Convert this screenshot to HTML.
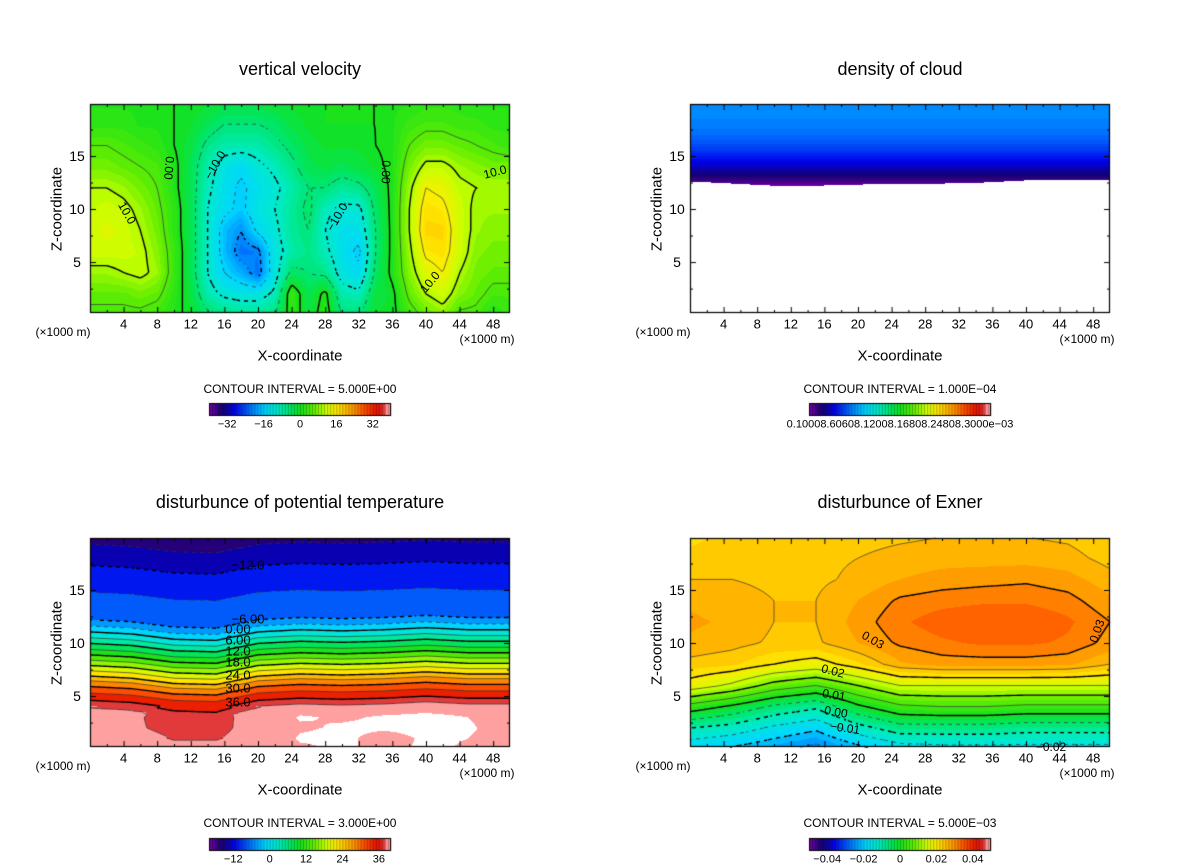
<!DOCTYPE html>
<html><head><meta charset="utf-8">
<style>
body{margin:0;width:1200px;height:868px;background:#fff;position:relative;overflow:hidden;font-family:"Liberation Sans",sans-serif;}
canvas{position:absolute;left:0;top:0}
.t{position:absolute;transform:translate(-50%,-50%);white-space:nowrap;color:#000;line-height:1}
</style></head>
<body>
<canvas id="cv" width="1200" height="868"></canvas>
<div id="labels"></div>
<script>
// ---------- data: panel 1 vertical velocity ----------
const vvX=[0,2,4,6,8,10,12,14,16,18,20,22,24,26,28,30,32,34,36,38,40,42,44,46,48,50];
const vvZ=[0,2,4,6,8,10,12,14,16,18,20];
const vvVals=[
[4,4,4,4,3,1,-1,-4,-5,-6,-6,-5,2,-2,2,-5,-5,-1,-1,3,6,8,4,4,1,3],
[6,6,6,7,6,2,-2,-8,-11,-12,-12,-9,3,-3,1,-8,-9,-2,-1,6,10,12,8,6,4,4],
[9,9,10,11,9,3,-3,-10,-15,-18,-22,-12,-4,-5,-6,-12,-14,-4,1,8,13,15,10,7,6,6],
[12,12,12,11,8,3,-3,-10,-17,-22,-21,-12,-8,-6,-9,-13,-16,-5,1,9,16,17,12,8,7,7],
[12,13,12,10,7,2,-3,-10,-17,-20,-14,-11,-7,-5,-10,-13,-13,-5,1,10,18,18,12,9,8,8],
[11,12,11,9,6,2,-3,-10,-14,-16,-12,-10,-7,-4,-9,-11,-11,-4,1,10,17,16,12,9,9,9],
[10,10,9,7,5,1,-3,-9,-13,-16,-13,-11,-8,-5,-5,-7,-6,-3,1,9,15,14,11,10,10,10],
[7,7,6,5,4,1,-3,-8,-12,-14,-11,-9,-6,-3,-2,-3,-2,-1,1,7,11,11,9,8,7,7],
[5,5,4,3,2,0,-2,-6,-8,-8,-8,-6,-4,-2,-1,-1,-1,0,1,5,7,7,6,5,4,3],
[2,2,2,1,1,0,-1,-3,-5,-5,-5,-4,-2,-1,0,0,0,0,1,3,4,4,3,3,2,2],
[1,1,1,1,0,0,0,-1,-2,-2,-2,-1,-1,0,0,0,0,0,1,1,2,2,2,1,1,1]];
// ---------- panel 2 cloud density (x1e-3) ----------
const cdZ=[12.2,12.8,13.5,14.5,15.5,16.5,17.5,19,20];
const cdVals=[0.01,0.05,0.09,0.14,0.18,0.21,0.23,0.245,0.245];
const cbX=[0,5,10,15,20,25,30,35,40,45,50];
const cloudBase=[12.6,12.4,12.2,12.2,12.3,12.4,12.4,12.5,12.7,12.7,12.7];
// ---------- panel 3 potential temperature ----------
const ptZ=[0,1,2,3,4,4.5,5,5.5,6,6.5,7,7.5,8,8.5,9,9.5,10,10.5,11,11.5,12,12.5,13.5,15,16,17.5,19,20];
const ptVals=[41.5,41.5,41.5,41,40.5,37.5,35,33,30.5,28,24.5,21.5,18.5,15.5,12.5,9.5,7,4,1.5,-1.5,-4,-6.5,-7.5,-9,-10,-12,-14,-16];
const ptDipX=[0,5,10,15,20,25,30,35,40,45,50];
const ptDip=[0.2,0.4,0.9,1.0,0.2,0,0.1,0,-0.2,0,0];
const ptLowX=[0,5,10,15,20,25,30,35,40,45,50];
const ptLowZ=[0,1,2,3,4];
const ptLow=[
[1,-1.5,-2,-2,-1.5,0,0.8,0,0.8,0.3,-0.5],
[-1.5,-2,-2.6,-2.6,-2,0.8,1,-0.3,0.8,0.5,-0.5],
[-1.5,-2,-2.6,-2.6,-1.5,0.2,0.8,0.8,1,0.8,-0.5],
[-1,-1.5,-2.3,-2.3,-0.8,1.2,0.8,1.2,1.3,1,-0.3],
[-1,-1,-1,-1,-1,0.6,0.6,0.6,0.8,0.8,-1]];
// ---------- panel 4 Exner (x1e-3) ----------
const exX=[0,5,10,15,20,25,30,35,40,45,50];
const exZ=[0,2,4,6,8,10,12,14,16,18,20];
const exVals=[
[-19,-21,-24,-27,-22,-18,-17,-17,-17,-17,-17],
[-10,-12,-16,-19,-12,-7,-7,-7,-8,-8,-8],
[3,-1,-6,-9,-1,4,5,5,4,4,4],
[18,14,8,5,10,15,15,15,15,15,15],
[24,23,20,18,22,27,28.5,28.5,28.5,28,25],
[27,26,24.5,24.5,27.5,30.5,32,33,33,32,29],
[28,27,25,25,28.5,32,34,35,35,33,30],
[27,26,25,25,27.5,30.5,31.5,32,32,31,28],
[25,25,24.5,24.5,25.5,27.5,28.5,29,29.5,28.5,26],
[23,24,24,24.5,25,26,26.5,26.5,26.5,26,24],
[22,23,23,23,24,24.5,25,25,25,24.5,23]];
const xTicks=[4,8,12,16,20,24,28,32,36,40,44,48];
const zTicks=[5,10,15];
const cb1=[-32,-16,0,16,32], cb3=[-12,0,12,24,36], cb4=[-0.04,-0.02,0,0.02,0.04];

// ---------- helpers ----------
const ST=[[0,[120,0,170]],[0.07,[20,0,110]],[0.14,[0,0,235]],[0.23,[0,120,255]],[0.31,[0,215,255]],[0.38,[0,235,200]],[0.45,[0,230,100]],[0.5,[20,225,30]],[0.58,[100,238,0]],[0.64,[200,255,0]],[0.7,[255,235,0]],[0.78,[255,165,0]],[0.85,[255,85,0]],[0.92,[232,20,0]],[0.955,[220,40,40]],[0.975,[255,145,145]],[1,[255,160,160]]];
function cmap(t){t=Math.max(0,Math.min(1,t));for(let i=0;i<ST.length-1;i++){if(t<=ST[i+1][0]){const f=(t-ST[i][0])/(ST[i+1][0]-ST[i][0]);return ST[i][1].map((c,k)=>Math.round(c+(ST[i+1][1][k]-c)*f));}}return ST[ST.length-1][1];}
function idx(a,v){if(v<=a[0])return 0;for(let i=0;i<a.length-1;i++)if(v<=a[i+1])return i;return a.length-2;}
function lin1(a,vals,v){const i=idx(a,v);let f=(v-a[i])/(a[i+1]-a[i]);f=Math.max(0,Math.min(1,f));return vals[i]+(vals[i+1]-vals[i])*f;}
function bil(xs,zs,g,x,z){const i=idx(xs,x),j=idx(zs,z);let fx=(x-xs[i])/(xs[i+1]-xs[i]),fz=(z-zs[j])/(zs[j+1]-zs[j]);fx=Math.max(0,Math.min(1,fx));fz=Math.max(0,Math.min(1,fz));
 const a=g[j][i],b=g[j][i+1],c=g[j+1][i],d=g[j+1][i+1];return (a*(1-fx)+b*fx)*(1-fz)+(c*(1-fx)+d*fx)*fz;}

const f1=(x,z)=>bil(vvX,vvZ,vvVals,x,z);
const f2=(x,z)=>{const b=lin1(cbX,cloudBase,x);return z<b?NaN:lin1(cdZ,cdVals,z);};
const f3=(x,z)=>{const d=lin1(ptDipX,ptDip,x);let v=lin1(ptZ,ptVals,z+d);if(z<4)v+=bil(ptLowX,ptLowZ,ptLow,x,z);return v;};
const f4=(x,z)=>bil(exX,exZ,exVals,x,z)/1000;

const W=420,H=209,ZMIN=0.2,ZMAX=19.9;
const cv=document.getElementById('cv'),ctx=cv.getContext('2d');
ctx.fillStyle='#fff';ctx.fillRect(0,0,1200,868);
const lay=document.getElementById('labels');
function txt(s,x,y,size,name,rot){const el=document.createElement('div');el.className='t';el.textContent=s;el.style.left=x+'px';el.style.top=y+'px';el.style.fontSize=size+'px';if(rot)el.style.transform='translate(-50%,-50%) rotate('+rot+'deg)';


lay.appendChild(el);return el;}

function fill(P,f,mn,mx,ci,whiteAbove){const img=ctx.createImageData(W,H);for(let py=0;py<H;py++){const z=ZMAX-(py+0.5)/H*(ZMAX-ZMIN);for(let px=0;px<W;px++){const x=(px+0.5)/W*50;const v=f(x,z);let c=[255,255,255];if(!isNaN(v)&&v>=mn&&v<=whiteAbove){const k=Math.floor(v/ci);c=cmap(((k+0.5)*ci-mn)/(mx-mn));}const o=(py*W+px)*4;img.data[o]=c[0];img.data[o+1]=c[1];img.data[o+2]=c[2];img.data[o+3]=255;}}ctx.putImageData(img,P.x,P.y);}

function contours(P,f,levels,thickFn,ci){const s=2,nx=Math.ceil(W/s),nz=Math.ceil(H/s);const F=[];
 for(let j=0;j<=nz;j++){const r=[];for(let i=0;i<=nx;i++){const px=Math.min(i*s,W),py=Math.min(j*s,H);r.push(f(px/W*50,ZMAX-py/H*(ZMAX-ZMIN)));}F.push(r);}
 const X=gx=>P.x+Math.min(gx*s,W),Y=gz=>P.y+Math.min(gz*s,H);
 levels.forEach(L0=>{const L=L0+ci*1e-6;const thick=thickFn(L0);ctx.strokeStyle=thick?'#000':'#333';ctx.lineWidth=thick?1.4:0.7;ctx.beginPath();
  for(let j=0;j<nz;j++)for(let i=0;i<nx;i++){const a=F[j][i],b=F[j][i+1],c=F[j+1][i+1],d=F[j+1][i];if(isNaN(a)||isNaN(b)||isNaN(c)||isNaN(d))continue;const p=[];
   if((a-L)*(b-L)<0)p.push([i+(L-a)/(b-a),j]);if((b-L)*(c-L)<0)p.push([i+1,j+(L-b)/(c-b)]);if((d-L)*(c-L)<0)p.push([i+(L-d)/(c-d),j+1]);if((a-L)*(d-L)<0)p.push([i,j+(L-a)/(d-a)]);
   for(let k=0;k+1<p.length;k+=2){const x1=X(p[k][0]),y1=Y(p[k][1]),x2=X(p[k+1][0]),y2=Y(p[k+1][1]);if(L0<0){const mx=(x1+x2)/2,my=(y1+y2)/2;if((Math.floor(mx/4)+Math.floor(my/4))%2)continue;}ctx.moveTo(x1,y1);ctx.lineTo(x2,y2);}}
  ctx.stroke();});}

function axes(P,id){ctx.strokeStyle='#000';ctx.lineWidth=1.2;ctx.strokeRect(P.x+0.5,P.y+0.5,W-1,H-1);ctx.lineWidth=1;ctx.beginPath();
 for(let x=2;x<50;x+=2){const px=P.x+x/50*W+0.5,l=(x%4==0)?6:3;ctx.moveTo(px,P.y+H);ctx.lineTo(px,P.y+H-l);ctx.moveTo(px,P.y);ctx.lineTo(px,P.y+l);}
 for(let z=2.5;z<20;z+=2.5){const py=P.y+(ZMAX-z)/(ZMAX-ZMIN)*H+0.5,l=(z%5==0)?6:3;ctx.moveTo(P.x,py);ctx.lineTo(P.x+l,py);ctx.moveTo(P.x+W,py);ctx.lineTo(P.x+W-l,py);}
 ctx.stroke();
 xTicks.forEach(x=>txt(String(x),P.x+x/50*W,P.y+H+11,13,id+'-x-tick-label'));
 zTicks.forEach(z=>txt(String(z),P.x-13,P.y+(ZMAX-z)/(ZMAX-ZMIN)*H,14,id+'-z-tick-label'));
 txt('(×1000 m)',P.x-27,P.y+H+19,12,id+'-x-unit-left');txt('(×1000 m)',P.x+397,P.y+H+26,12,id+'-x-unit-right');
 txt('X-coordinate',P.x+210,P.y+H+43,15,id+'-x-axis-title');txt('Z-coordinate',P.x-33,P.y+105,15,id+'-z-axis-title',-90);}

function cbar(cx,cy,mn,mx,ticks,id,fmt){const x0=cx-91,w=182,n=60;for(let i=0;i<n;i++){const c=cmap((i+0.5)/n);const xa=x0+i*w/n;ctx.fillStyle='rgb('+c+')';ctx.fillRect(xa,cy,w/n+0.5,13);ctx.fillStyle='rgba(0,0,0,0.35)';ctx.fillRect(xa,cy,0.8,13);}
 ctx.strokeStyle='#000';ctx.lineWidth=1;ctx.strokeRect(x0+0.5,cy+0.5,w-1,12);
 if(ticks)ticks.forEach(v=>txt(fmt(v),x0+(v-mn)/(mx-mn)*w,cy+22,11,id+'-colorbar-label'));}

const P1={x:90,y:104},P2={x:690,y:104},P3={x:90,y:538},P4={x:690,y:538};
fill(P1,f1,-40,40,1.25,40);fill(P2,f2,0,1,0.01,1);fill(P3,f3,-20,40,3,42);fill(P4,f4,-0.05,0.05,0.0025,0.05);
contours(P1,f1,[-20,-15,-10,-5,0,5,10,15],L=>L%10==0,5);
contours(P3,f3,[-15,-12,-9,-6,-3,0,3,6,9,12,15,18,21,24,27,30,33,36,39],L=>L%6==0&&L<39,3);
contours(P4,f4,[-0.03,-0.025,-0.02,-0.015,-0.01,-0.005,0,0.005,0.01,0.015,0.02,0.025,0.03],L=>Math.abs(Math.round(L*1000))%10==0,0.005);
[[P1,'vv'],[P2,'cloud'],[P3,'theta'],[P4,'exner']].forEach(a=>axes(a[0],a[1]));
cbar(300,403,-40,40,cb1,'vv',v=>v<0?'−'+(-v):String(v));
cbar(900,403,0,1,null,'cloud');
cbar(300,838,-20,40,cb3,'theta',v=>v<0?'−'+(-v):String(v));
cbar(900,838,-0.05,0.05,cb4,'exner',v=>v==0?'0':(v<0?'−':'')+Math.abs(v).toFixed(2));
txt('0.10008.60608.12008.16808.24808.3000e−03',900,425,11,'cloud-colorbar-label');
</script>
<div class="t" style="left:300px;top:69px;font-size:18px">vertical velocity</div>
<div class="t" style="left:900px;top:69px;font-size:18px">density of cloud</div>
<div class="t" style="left:300px;top:502px;font-size:18px">disturbunce of potential temperature</div>
<div class="t" style="left:900px;top:502px;font-size:18px">disturbunce of Exner</div>
<div class="t" style="left:300px;top:389px;font-size:12px">CONTOUR INTERVAL = 5.000E+00</div>
<div class="t" style="left:900px;top:389px;font-size:12px">CONTOUR INTERVAL = 1.000E−04</div>
<div class="t" style="left:300px;top:823px;font-size:12px">CONTOUR INTERVAL = 3.000E+00</div>
<div class="t" style="left:900px;top:823px;font-size:12px">CONTOUR INTERVAL = 5.000E−03</div>
<div class="t" style="left:169px;top:168px;font-size:12px;transform:translate(-50%,-50%) rotate(95deg)">0.00</div>
<div class="t" style="left:386px;top:172px;font-size:12px;transform:translate(-50%,-50%) rotate(92deg)">0.00</div>
<div class="t" style="left:215px;top:165px;font-size:12px;transform:translate(-50%,-50%) rotate(-60deg)">−10.0</div>
<div class="t" style="left:127px;top:213px;font-size:12px;transform:translate(-50%,-50%) rotate(60deg)">10.0</div>
<div class="t" style="left:337px;top:217px;font-size:12px;transform:translate(-50%,-50%) rotate(-60deg)">−10.0</div>
<div class="t" style="left:495px;top:172px;font-size:12px;transform:translate(-50%,-50%) rotate(-15deg)">10.0</div>
<div class="t" style="left:430px;top:282px;font-size:12px;transform:translate(-50%,-50%) rotate(-50deg)">10.0</div>
<div class="t" style="left:248px;top:565px;font-size:13px">−12.0</div>
<div class="t" style="left:248px;top:619px;font-size:13px">−6.00</div>
<div class="t" style="left:238px;top:629px;font-size:13px">0.00</div>
<div class="t" style="left:238px;top:640px;font-size:13px">6.00</div>
<div class="t" style="left:238px;top:651px;font-size:13px">12.0</div>
<div class="t" style="left:238px;top:662px;font-size:13px">18.0</div>
<div class="t" style="left:238px;top:675px;font-size:13px">24.0</div>
<div class="t" style="left:238px;top:688px;font-size:13px">30.0</div>
<div class="t" style="left:238px;top:702px;font-size:13px">36.0</div>
<div class="t" style="left:873px;top:640px;font-size:12px;transform:translate(-50%,-50%) rotate(30deg)">0.03</div>
<div class="t" style="left:1097px;top:631px;font-size:12px;transform:translate(-50%,-50%) rotate(-70deg)">0.03</div>
<div class="t" style="left:833px;top:671px;font-size:12px;transform:translate(-50%,-50%) rotate(15deg)">0.02</div>
<div class="t" style="left:834px;top:695px;font-size:12px;transform:translate(-50%,-50%) rotate(10deg)">0.01</div>
<div class="t" style="left:836px;top:712px;font-size:12px;transform:translate(-50%,-50%) rotate(10deg)">0.00</div>
<div class="t" style="left:845px;top:728px;font-size:12px;transform:translate(-50%,-50%) rotate(8deg)">−0.01</div>
<div class="t" style="left:1051px;top:747px;font-size:12px">−0.02</div>
</body></html>
